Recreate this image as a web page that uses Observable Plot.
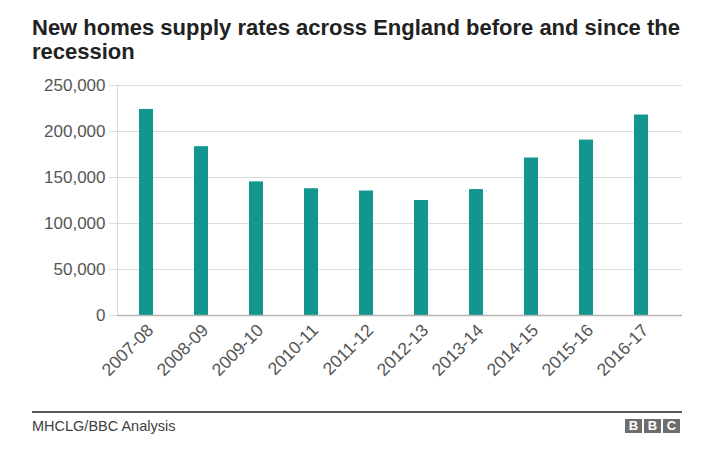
<!DOCTYPE html>
<html>
<head>
<meta charset="utf-8">
<script src="https://cdn.jsdelivr.net/npm/d3@7"></script>
<script src="https://cdn.jsdelivr.net/npm/@observablehq/plot@0.6"></script>
<style>
  html, body { margin: 0; padding: 0; background: #fff; }
  body { width: 709px; height: 454px; position: relative; font-family: "Liberation Sans", Arial, Helvetica, sans-serif; overflow: hidden; }
  #title { position: absolute; left: 32px; top: 16px; font-size: 22px; font-weight: bold; line-height: 24px; color: #222; white-space: nowrap; }
  #chart { position: absolute; left: 0; top: 66px; }
  #rule { position: absolute; left: 32px; top: 411px; width: 650px; height: 0; border-top: 2px solid #5a5a5a; }
  #source { position: absolute; left: 32px; top: 418px; font-size: 14.5px; color: #404040; }
  #logo { position: absolute; left: 625px; top: 419px; display: flex; gap: 2px; }
  #logo span { display: block; width: 17px; height: 14px; background: #6d6d6d; color: #fff; font-weight: bold; font-size: 13px; line-height: 14px; text-align: center; }
</style>
</head>
<body>
<div id="title">New homes supply rates across England before and since the<br>recession</div>
<div id="chart"></div>
<div id="rule"></div>
<div id="source">MHCLG/BBC Analysis</div>
<div id="logo"><span>B</span><span>B</span><span>C</span></div>
<script>
const years = ["2007-08", "2008-09", "2009-10", "2010-11", "2011-12", "2012-13", "2013-14", "2014-15", "2015-16", "2016-17"];
const homes = [224000, 183500, 145200, 137800, 135300, 125000, 136900, 171200, 190700, 217900];
const yTicks = [0, 50000, 100000, 150000, 200000, 250000];

const data = years.map((y, i) => ({year: y, value: homes[i]}));

const chart = Plot.plot({
  width: 709,
  height: 340,
  marginLeft: 117,
  marginRight: 27,
  marginTop: 19,
  marginBottom: 91,
  style: {fontFamily: "'Liberation Sans', Arial, Helvetica, sans-serif", background: "transparent"},
  x: {domain: years, paddingInner: 0.75, paddingOuter: 0.455, align: 0.39, label: null},
  y: {domain: [0, 250000], label: null},
  marks: [
    Plot.gridY(yTicks, {stroke: "#dcdcdc", strokeOpacity: 1}),
    Plot.axisY(yTicks, {tickSize: 8, tickPadding: 4, stroke: "#dcdcdc", fontSize: 17, fill: "#555", tickFormat: d3.format(","), label: null}),
    Plot.frame({anchor: "left", stroke: "#dcdcdc"}),
    Plot.barY(data, {x: "year", y: "value", fill: "#12968f"}),
    Plot.ruleY([0], {stroke: "#b5b5b5", strokeWidth: 1.5}),
    Plot.axisX({tickSize: 0, tickRotate: -45, tickPadding: 12, dx: 4, fontSize: 17.5, fill: "#555", label: null})
  ]
});
document.getElementById("chart").appendChild(chart);
</script>
</body>
</html>
